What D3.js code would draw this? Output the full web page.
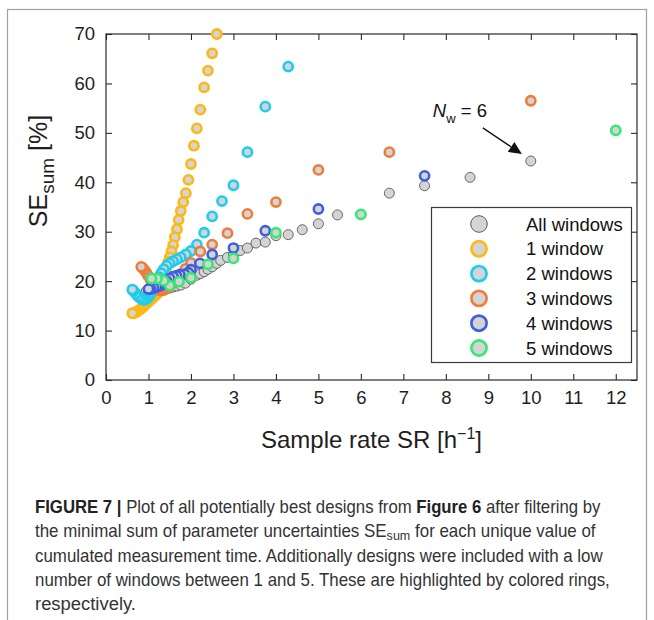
<!DOCTYPE html>
<html>
<head>
<meta charset="utf-8">
<script src="https://cdn.jsdelivr.net/npm/d3@7"></script>
<style>
body { margin: 0; background: #fff; }
text { font-family: "Liberation Sans", Arial, Helvetica, sans-serif; }
</style>
</head>
<body>
<div id="chart"></div>
<script>
var xTicks = [0, 1, 2, 3, 4, 5, 6, 7, 8, 9, 10, 11, 12];
var yTicks = [0, 10, 20, 30, 40, 50, 60, 70];

// [sample rate SR, SE_sum]
var allWindows = [
    [0.62, 13.5], [0.62, 18.2], [0.95, 18.0], [1.0, 18.0], [1.1, 18.0], [1.2, 18.0],
    [1.3, 18.2], [1.4, 18.4], [1.5, 18.6], [1.58, 18.8], [1.67, 19.0], [1.76, 19.2],
    [1.87, 19.6], [2.0, 20.4], [2.14, 21.2], [2.22, 21.5], [2.31, 21.9], [2.4, 22.4],
    [2.5, 22.9], [2.61, 23.6], [2.7, 24.2], [2.86, 24.8], [3.0, 25.3], [3.16, 26.2],
    [3.33, 26.7], [3.53, 27.7], [3.75, 27.9], [4.0, 29.2], [4.29, 29.4], [4.62, 30.4],
    [5.0, 31.6], [5.45, 33.4], [6.0, 33.5], [6.67, 37.8], [7.5, 39.3], [8.57, 41.0],
    [10.0, 44.3], [12.0, 50.5]
];
var oneWindow = [
    [2.61, 70.0], [2.5, 66.1], [2.4, 62.6], [2.31, 59.2], [2.22, 54.7], [2.14, 50.9],
    [2.07, 47.4], [2.0, 43.7], [1.94, 40.5], [1.88, 37.8], [1.82, 36.0], [1.76, 34.2],
    [1.71, 32.4], [1.67, 30.5], [1.62, 28.9], [1.58, 27.3], [1.54, 26.0], [1.5, 24.8],
    [1.47, 24.0], [1.44, 23.2], [1.41, 22.4], [1.38, 21.6], [1.35, 20.8], [1.32, 20.1],
    [1.29, 19.4], [1.26, 18.7], [1.23, 18.0], [1.2, 17.4], [1.15, 17.0], [1.1, 16.6],
    [1.05, 16.2], [1.0, 15.8], [0.95, 15.4], [0.9, 15.0], [0.85, 14.6], [0.8, 14.3],
    [0.75, 14.0], [0.7, 13.7], [0.65, 13.5], [0.62, 13.5]
];
var twoWindows = [
    [4.29, 63.4], [3.75, 55.3], [3.33, 46.1], [3.0, 39.4], [2.73, 36.2], [2.5, 33.1],
    [2.31, 29.8], [2.14, 27.4], [2.0, 26.1], [1.88, 25.4], [1.76, 24.8], [1.67, 24.4],
    [1.58, 24.0], [1.5, 23.6], [1.43, 23.1], [1.36, 22.4], [1.3, 21.6], [1.25, 20.8],
    [1.2, 20.0], [1.15, 19.1], [1.1, 18.2], [1.05, 17.4], [1.0, 16.8], [0.95, 16.4],
    [0.9, 16.2], [0.85, 16.3], [0.8, 16.6], [0.75, 17.0], [0.7, 17.5], [0.65, 18.0],
    [0.62, 18.3]
];
var threeWindows = [
    [10.0, 56.5], [6.67, 46.1], [5.0, 42.5], [4.0, 36.0], [3.33, 33.6], [2.86, 29.7],
    [2.5, 27.4], [2.22, 26.0], [2.0, 23.7], [1.87, 22.5], [1.76, 21.4], [1.67, 20.4],
    [1.58, 19.6], [1.5, 19.0], [1.43, 18.5], [1.36, 18.2], [1.3, 18.1], [1.25, 18.2],
    [1.2, 18.5], [1.15, 19.0], [1.1, 19.6], [1.05, 20.3], [1.0, 21.0], [0.95, 21.7],
    [0.9, 22.3], [0.86, 22.7], [0.83, 22.9]
];
var fourWindows = [
    [7.5, 41.3], [5.0, 34.6], [3.75, 30.2], [3.0, 26.7], [2.5, 25.4], [2.21, 23.6],
    [2.0, 22.3], [1.94, 21.7], [1.85, 21.4], [1.74, 21.3], [1.66, 21.1], [1.58, 20.9],
    [1.5, 20.5], [1.43, 20.0], [1.36, 19.5], [1.3, 19.2], [1.25, 19.0], [1.19, 18.8],
    [1.12, 18.6], [1.05, 18.4], [1.0, 18.4]
];
var fiveWindows = [
    [12.0, 50.5], [6.0, 33.5], [4.0, 29.8], [3.0, 24.6], [2.4, 23.4], [2.0, 20.7],
    [1.72, 19.9], [1.5, 19.1], [1.36, 20.1], [1.2, 20.5], [1.07, 20.5]
];

var legendLabels = ["All windows", "1 window", "2 windows", "3 windows", "4 windows", "5 windows"];
var ringColors = ["#5a5a5a", "#fdb913", "#1ccdee", "#ed7d3b", "#3f5fe0", "#35ea70"];

var arrowFrom = [8.87, 51.0];
var arrowTo = [9.79, 45.7];

var captionLines = [
    [["FIGURE 7 |", "b"], [" Plot of all potentially best designs from ", "n"], ["Figure 6", "b"], [" after filtering by", "n"]],
    [["the minimal sum of parameter uncertainties SE", "n"], ["sum", "s"], [" for each unique value of", "r"]],
    [["cumulated measurement time. Additionally designs were included with a low", "n"]],
    [["number of windows between 1 and 5. These are highlighted by colored rings,", "n"]],
    [["respectively.", "n"]]
];
var captionWidths = [566, 561, 568, 575, 101];

function init(){
    var w = 654;
    var h = 620;
    var left = 106, right = 637, top = 34, bottom = 380;
    var ink = "#2a2a2a";

    var svg = d3.select("#chart")
                .append("svg")
                .attr("width", w)
                .attr("height", h);

    // figure frame
    svg.append("rect")
        .attr("x", 7.5).attr("y", 9.5)
        .attr("width", 639).attr("height", 700)
        .attr("fill", "none")
        .attr("stroke", "#a0a0a0")
        .attr("stroke-width", 1.2);

    var xscale = d3.scaleLinear().domain([0, 12.5]).range([left, right]);
    var yscale = d3.scaleLinear().domain([0, 70]).range([bottom, top]);

    var gx = svg.append("g")
        .attr("transform", "translate(0," + bottom + ")")
        .call(d3.axisBottom(xscale).tickValues(xTicks).tickSizeInner(-6).tickSizeOuter(0).tickPadding(11));
    var gy = svg.append("g")
        .attr("transform", "translate(" + left + ",0)")
        .call(d3.axisLeft(yscale).tickValues(yTicks).tickSizeInner(-6).tickSizeOuter(0).tickPadding(11));
    var gt = svg.append("g")
        .attr("transform", "translate(0," + top + ")")
        .call(d3.axisTop(xscale).tickValues(xTicks).tickSizeInner(-6).tickSizeOuter(0).tickFormat(""));
    var gr = svg.append("g")
        .attr("transform", "translate(" + right + ",0)")
        .call(d3.axisRight(yscale).tickValues(yTicks).tickSizeInner(-6).tickSizeOuter(0).tickFormat(""));

    [gx, gy, gt, gr].forEach(function(g) {
        g.select(".domain").remove();
        g.selectAll("line").attr("stroke", ink).attr("stroke-width", 1.1);
        g.selectAll("text")
            .attr("fill", "#1e1e1e")
            .style("font-size", "18.5px");
    });

    svg.append("rect")
        .attr("x", left).attr("y", top)
        .attr("width", right - left).attr("height", bottom - top)
        .attr("fill", "none")
        .attr("stroke", ink)
        .attr("stroke-width", 1.2);

    // markers
    svg.append("g").selectAll("circle")
        .data(allWindows)
        .enter()
        .append("circle")
        .attr("cx", function(d) { return xscale(d[0]); })
        .attr("cy", function(d) { return yscale(d[1]); })
        .attr("r", 5)
        .attr("fill", "#d4d4d4")
        .attr("stroke", ringColors[0])
        .attr("stroke-width", 0.9);

    var series = [oneWindow, twoWindows, threeWindows, fourWindows, fiveWindows];
    series.forEach(function(s, i) {
        svg.append("g").selectAll("circle")
            .data(s)
            .enter()
            .append("circle")
            .attr("cx", function(d) { return xscale(d[0]); })
            .attr("cy", function(d) { return yscale(d[1]); })
            .attr("r", 4.6)
            .attr("fill", "#d4d4d4")
            .attr("stroke", ringColors[i + 1])
            .attr("stroke-width", 2.6);
    });

    // annotation
    var x1 = xscale(arrowFrom[0]), y1 = yscale(arrowFrom[1]);
    var x2 = xscale(arrowTo[0]), y2 = yscale(arrowTo[1]);
    var ang = Math.atan2(y2 - y1, x2 - x1);
    var headLen = 13, headW = 6;
    var bx = x2 - headLen * Math.cos(ang), by = y2 - headLen * Math.sin(ang);
    svg.append("line")
        .attr("x1", x1).attr("y1", y1)
        .attr("x2", bx).attr("y2", by)
        .attr("stroke", "#111").attr("stroke-width", 1.3);
    svg.append("polygon")
        .attr("points", [
            [x2, y2],
            [bx + headW * Math.sin(ang), by - headW * Math.cos(ang)],
            [bx - headW * Math.sin(ang), by + headW * Math.cos(ang)]
        ].map(function(p) { return p.join(","); }).join(" "))
        .attr("fill", "#111");

    var note = svg.append("text")
        .attr("x", x1 - 50).attr("y", y1 - 11)
        .attr("fill", "#111")
        .style("font-size", "18.5px");
    note.append("tspan").text("N").style("font-style", "italic");
    note.append("tspan").text("w").attr("dy", 6).style("font-size", "13px");
    note.append("tspan").text(" = 6").attr("dy", -6);

    // legend
    var lg = svg.append("g");
    lg.append("rect")
        .attr("x", 431.5).attr("y", 207.5)
        .attr("width", 200).attr("height", 155)
        .attr("fill", "#fff")
        .attr("stroke", "#3a3a3a")
        .attr("stroke-width", 1.2);
    var items = lg.selectAll("g.item")
        .data(legendLabels)
        .enter()
        .append("g")
        .attr("transform", function(d, i) { return "translate(479," + (224 + i * 24.8) + ")"; });
    items.append("circle")
        .attr("r", function(d, i) { return i == 0 ? 8.3 : 7.6; })
        .attr("fill", "#d4d4d4")
        .attr("stroke", function(d, i) { return ringColors[i]; })
        .attr("stroke-width", function(d, i) { return i == 0 ? 1 : 2.7; });
    items.append("text")
        .attr("x", 47)
        .attr("dy", "0.36em")
        .attr("fill", "#111")
        .style("font-size", "18.5px")
        .text(function(d) { return d; });

    // axis titles
    var xt = svg.append("text")
        .attr("x", (left + right) / 2)
        .attr("y", 448)
        .attr("text-anchor", "middle")
        .attr("fill", "#1e1e1e")
        .style("font-size", "24px");
    xt.append("tspan").text("Sample rate SR [h");
    xt.append("tspan").text("\u22121").attr("dy", -9).style("font-size", "16px");
    xt.append("tspan").text("]").attr("dy", 9);

    var yt = svg.append("text")
        .attr("transform", "translate(47,171) rotate(-90)")
        .attr("text-anchor", "middle")
        .attr("fill", "#1e1e1e")
        .style("font-size", "25px");
    yt.append("tspan").text("SE");
    yt.append("tspan").text("sum").attr("dy", 7).style("font-size", "19px");
    yt.append("tspan").text(" [%]").attr("dy", -7);

    // caption, each line squeezed horizontally to the reference width
    captionLines.forEach(function(line, i) {
        var t = svg.append("text")
            .attr("fill", "#333")
            .style("font-size", "17.5px");
        line.forEach(function(part) {
            var sp = t.append("tspan").text(part[0]);
            if (part[1] == "b") sp.style("font-weight", "bold").attr("fill", "#222");
            if (part[1] == "s") sp.attr("dy", 3).style("font-size", "13px");
            if (part[1] == "r") sp.attr("dy", -3);
        });
        var natural = t.node().getComputedTextLength();
        var sx = captionWidths[i] / natural;
        t.attr("transform", "translate(35," + (513 + i * 24.3) + ") scale(" + sx + ",1)");
    });
}
window.onload = init;
</script>
</body>
</html>
